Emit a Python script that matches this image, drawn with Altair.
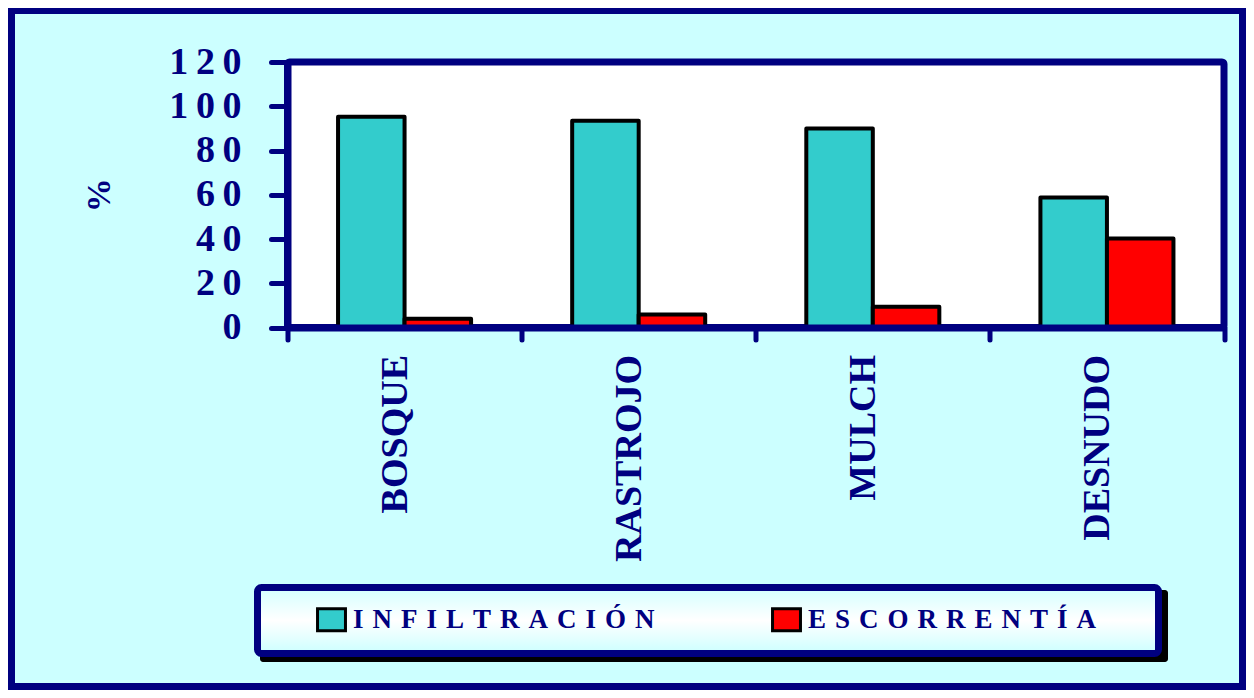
import altair as alt
import pandas as pd

categories = ["BOSQUE", "RASTROJO", "MULCH", "DESNUDO"]
series = ["INFILTRACIÓN", "ESCORRENTÍA"]
infiltracion = [95.2, 93.4, 89.9, 58.8]
escorrentia = [4.0, 5.9, 9.4, 40.2]
y_ticks = [0, 20, 40, 60, 80, 100, 120]
colors = ["#33CCCC", "#FF0000"]

NAVY = "#000080"
FONT = "Liberation Serif"

rows = []
for c, a, b in zip(categories, infiltracion, escorrentia):
    rows.append({"cat": c, "serie": series[0], "valor": a})
    rows.append({"cat": c, "serie": series[1], "valor": b})
df = pd.DataFrame(rows)

W, H = 936.5, 265.5
one = pd.DataFrame({"k": [0]})

outer = alt.Chart(one).mark_rect(
    fillOpacity=0, stroke=NAVY, strokeWidth=7
).encode(x=alt.value(-276), x2=alt.value(955), y=alt.value(-51.5), y2=alt.value(624.5))

shadow = alt.Chart(one).mark_rect(fill="black", cornerRadius=3).encode(
    x=alt.value(-27.5), x2=alt.value(880.5), y=alt.value(528), y2=alt.value(600))

box = alt.Chart(one).mark_rect(
    fill=alt.Gradient(
        gradient="linear",
        stops=[alt.GradientStop(color="#D4FFFF", offset=0),
               alt.GradientStop(color="#FFFFFF", offset=0.5),
               alt.GradientStop(color="#CCFFFF", offset=1)],
        x1=0, x2=0, y1=0, y2=1),
    stroke=NAVY, strokeWidth=7, cornerRadius=4
).encode(x=alt.value(-30), x2=alt.value(871), y=alt.value(525.5), y2=alt.value(591.5))

bars = alt.Chart(df).mark_bar(stroke="black", strokeWidth=4, strokeJoin="round").encode(
    x=alt.X("cat:N", sort=categories,
            scale=alt.Scale(paddingInner=0, paddingOuter=0),
            axis=alt.Axis(title=None, labelAngle=-90, labelFont=FONT, labelFontSize=38,
                          labelFontWeight="bold", labelColor=NAVY, labelPadding=15,
                          labelOffset=-9, labelLimit=400, tickBand="extent", tickSize=12,
                          tickWidth=5, tickColor=NAVY, tickCap="round",
                          domainColor=NAVY, domainWidth=7, zindex=1)),
    xOffset=alt.XOffset("serie:N", sort=series,
                        scale=alt.Scale(paddingOuter=0.76, paddingInner=0)),
    y=alt.Y("valor:Q", scale=alt.Scale(domain=[0, 120], nice=False),
            axis=alt.Axis(title="%", values=y_ticks, grid=False,
                          labelExpr="join(split(datum.label, ''), '\u2009')",
                          labelFont=FONT, labelFontSize=38, labelFontWeight="bold",
                          labelColor=NAVY, labelPadding=30, tickSize=16.5, tickWidth=5,
                          tickColor=NAVY, tickCap="round", domainColor=NAVY, domainWidth=7,
                          titleFont=FONT, titleFontSize=34, titleFontWeight="bold",
                          titleColor=NAVY, titleAngle=-90, titleAlign="center",
                          titleBaseline="middle", titleX=-188.5, titleY=H / 2, zindex=1)),
    color=alt.Color("serie:N", sort=series,
                    scale=alt.Scale(domain=series, range=colors),
                    legend=alt.Legend(title=None, orient="none", legendX=30.5, legendY=544,
                                      direction="horizontal",
                                      symbolType="M-1.27,-1L1.27,-1L1.27,1L-1.27,1Z",
                                      symbolSize=484, symbolStrokeColor="black",
                                      symbolStrokeWidth=3, symbolOpacity=1,
                                      labelExpr="join(split(datum.label, ''), '\u2004')",
                                      labelFont=FONT, labelFontSize=27, labelFontWeight="bold",
                                      labelColor=NAVY, labelOffset=8, labelLimit=600,
                                      columnPadding=111, padding=0)),
)

chart = alt.layer(outer, shadow, box, bars).properties(
    width=W, height=H,
    background="#CCFFFF",
    autosize=alt.AutoSizeParams(type="none"),
    padding={"left": 279.5, "top": 54, "right": 22, "bottom": 362.5},
).configure_view(
    fill="white", stroke=NAVY, strokeWidth=7, cornerRadius=2
)

chart.save("out.html", embed_options={"renderer": "svg", "actions": False})
